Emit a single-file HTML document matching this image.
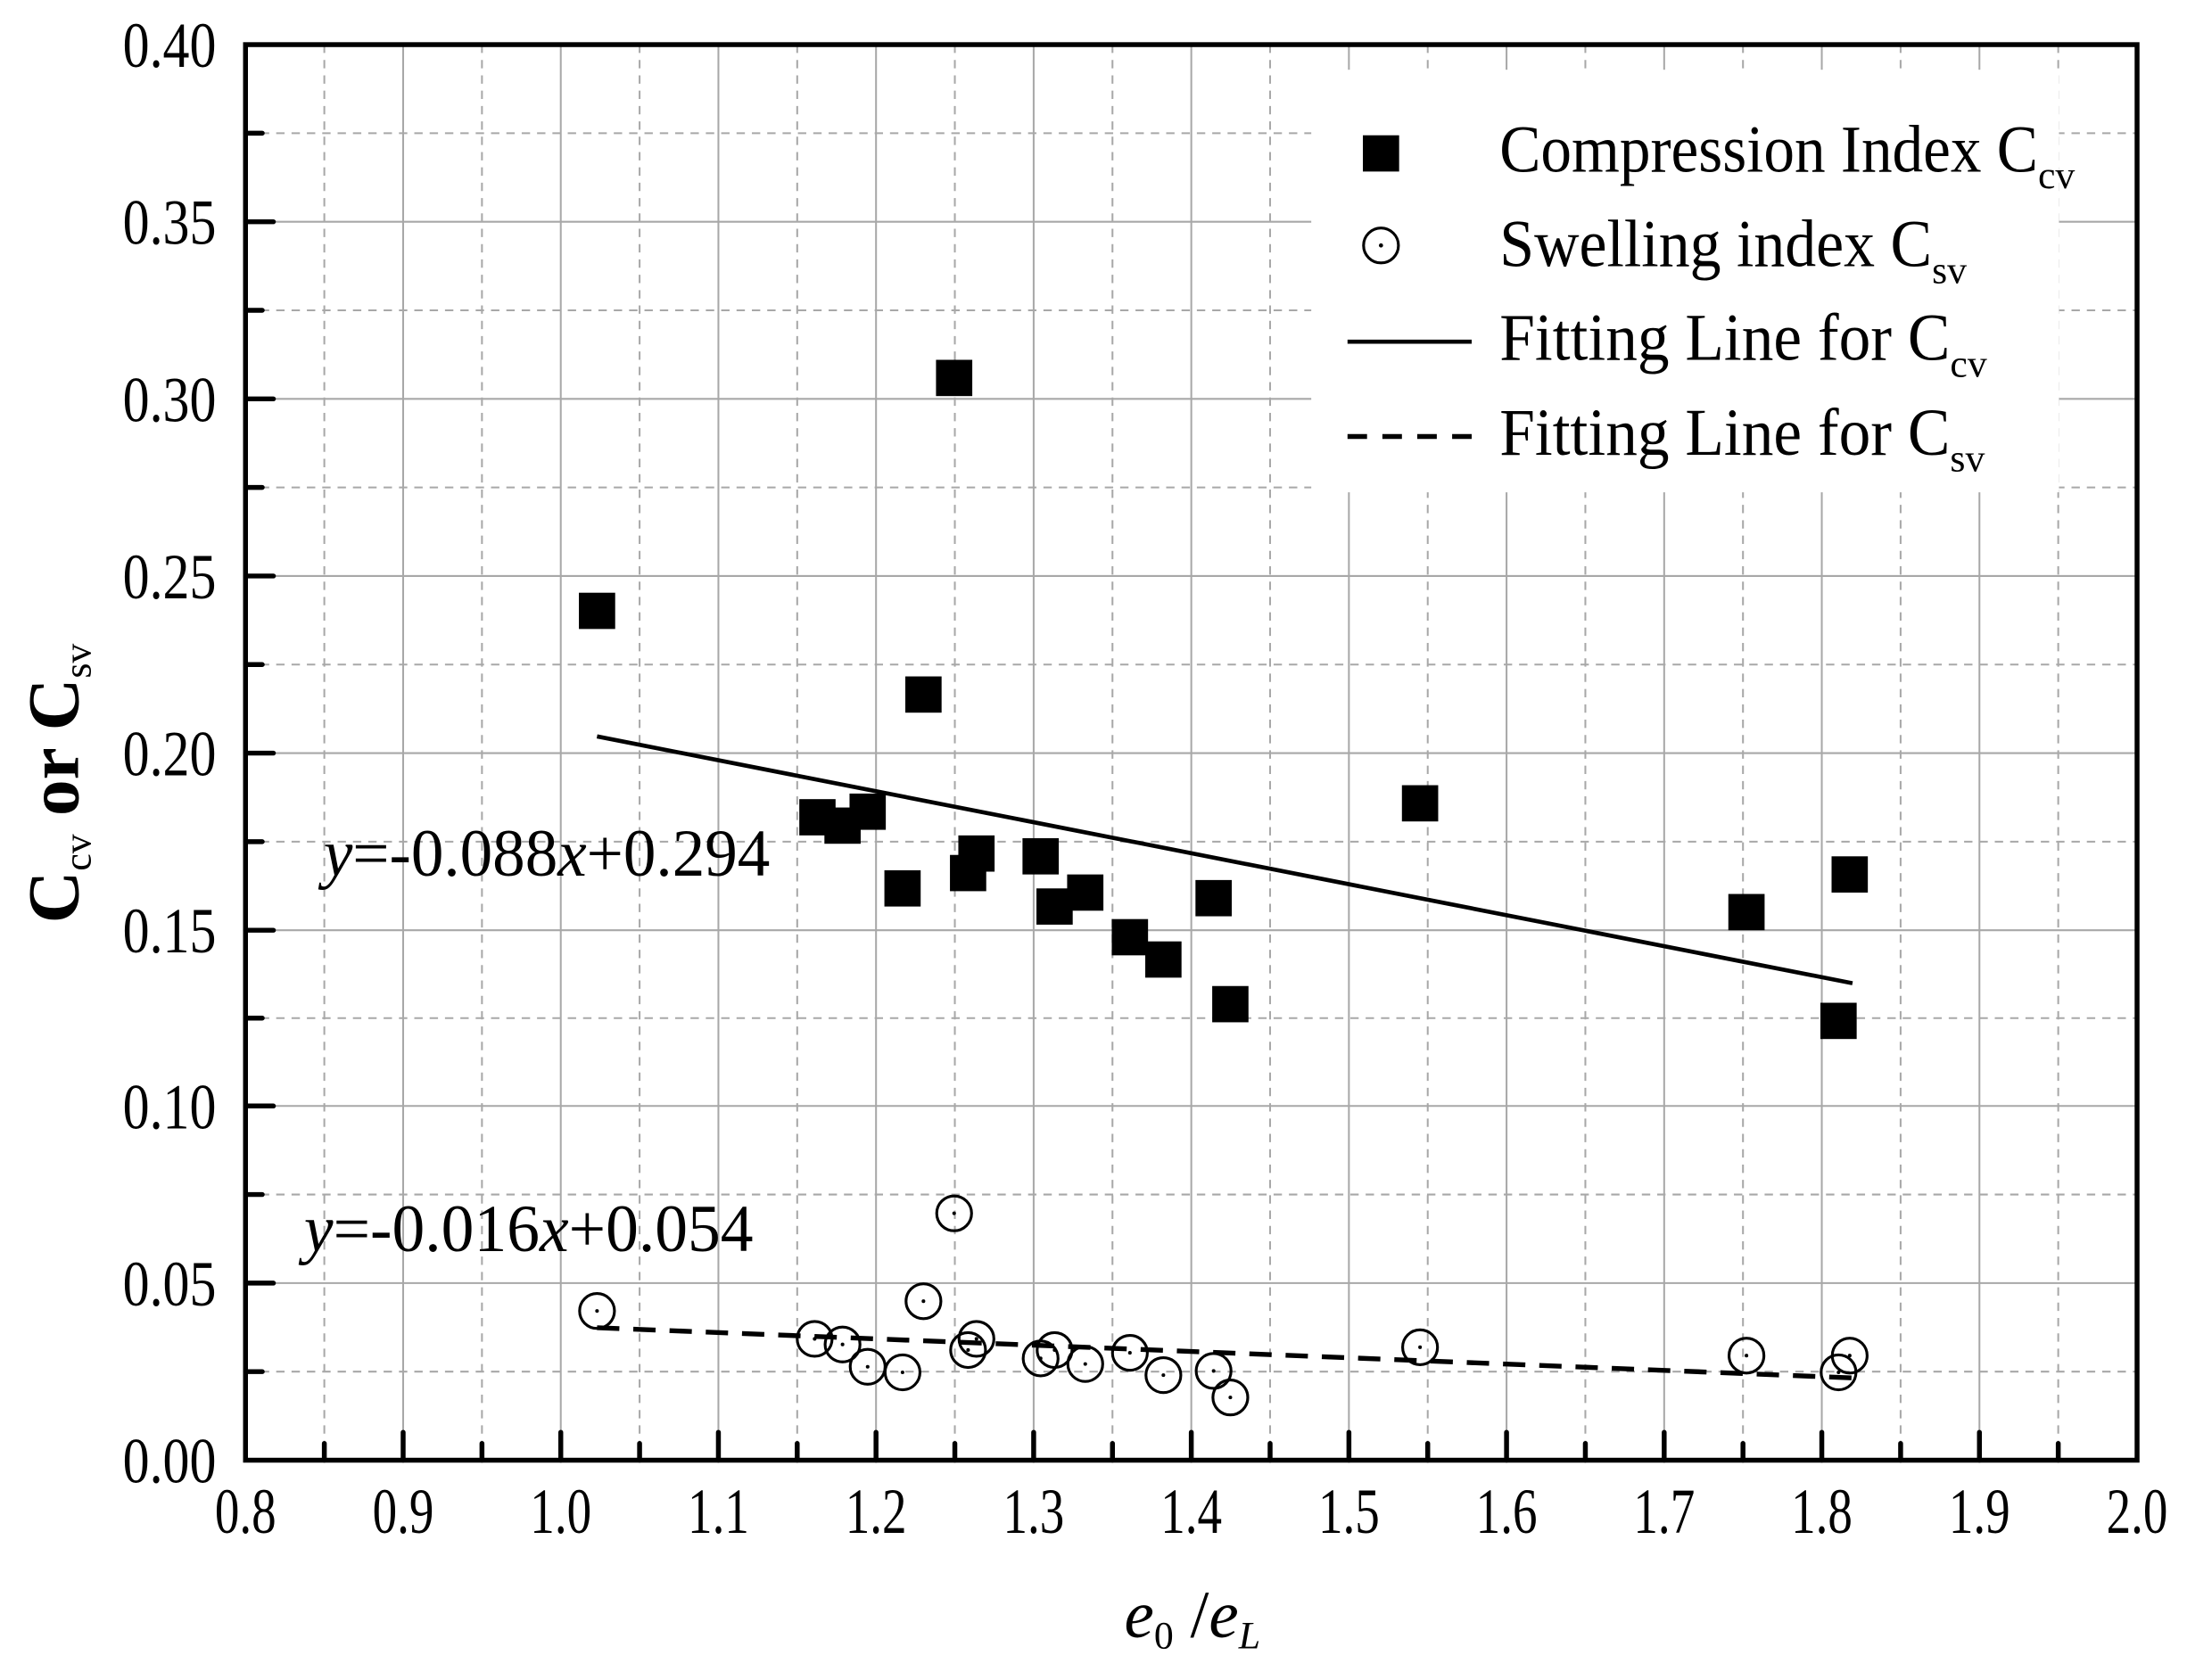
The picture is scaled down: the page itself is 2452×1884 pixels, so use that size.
<!DOCTYPE html>
<html><head><style>html,body{margin:0;padding:0;background:#fff}svg{display:block}</style></head>
<body>
<svg width="2452" height="1884" viewBox="0 0 1567.8 1204.6" preserveAspectRatio="none" xmlns="http://www.w3.org/2000/svg" font-family="'Liberation Serif',serif">
<rect width="1567.8" height="1204.6" fill="#fff"/>
<g stroke="#a8a8a8" stroke-width="1.3">
<path d="M289 32V1047M402 32V1047M515 32V1047M628 32V1047M741 32V1047M854 32V1047M967 32V1047M1080 32V1047M1193 32V1047M1306 32V1047M1419 32V1047"/>
<path d="M176 159H1532M176 286H1532M176 413H1532M176 540H1532M176 667H1532M176 793H1532M176 920H1532"/>
<path stroke-dasharray="6,5" d="M232.5 32V1047M345.5 32V1047M458.5 32V1047M571.5 32V1047M684.5 32V1047M797.5 32V1047M910.5 32V1047M1023.5 32V1047M1136.5 32V1047M1249.5 32V1047M1362.5 32V1047M1475.5 32V1047"/>
<path stroke-dasharray="6,5" d="M176 95.5H1532M176 222.5H1532M176 349.5H1532M176 476.5H1532M176 603.5H1532M176 730H1532M176 856.5H1532M176 983.5H1532"/>
</g>
<rect x="940" y="50" width="536" height="303" fill="#fff"/>
<g stroke="#000" stroke-width="3.5" stroke-linecap="round">
<path d="M289 1047v-20M402 1047v-20M515 1047v-20M628 1047v-20M741 1047v-20M854 1047v-20M967 1047v-20M1080 1047v-20M1193 1047v-20M1306 1047v-20M1419 1047v-20"/>
<path d="M232.5 1047v-12M345.5 1047v-12M458.5 1047v-12M571.5 1047v-12M684.5 1047v-12M797.5 1047v-12M910.5 1047v-12M1023.5 1047v-12M1136.5 1047v-12M1249.5 1047v-12M1362.5 1047v-12M1475.5 1047v-12"/>
<path d="M176 159h20M176 286h20M176 413h20M176 540h20M176 667h20M176 793h20M176 920h20"/>
<path d="M176 95.5h12M176 222.5h12M176 349.5h12M176 476.5h12M176 603.5h12M176 730h12M176 856.5h12M176 983.5h12"/>
</g>
<rect x="176" y="32" width="1356" height="1015" fill="none" stroke="#000" stroke-width="3.5"/>
<g font-size="46">
<text x="88" y="48" textLength="67" lengthAdjust="spacingAndGlyphs">0.40</text><text x="88" y="175" textLength="67" lengthAdjust="spacingAndGlyphs">0.35</text><text x="88" y="302" textLength="67" lengthAdjust="spacingAndGlyphs">0.30</text><text x="88" y="429" textLength="67" lengthAdjust="spacingAndGlyphs">0.25</text><text x="88" y="556" textLength="67" lengthAdjust="spacingAndGlyphs">0.20</text><text x="88" y="683" textLength="67" lengthAdjust="spacingAndGlyphs">0.15</text><text x="88" y="809" textLength="67" lengthAdjust="spacingAndGlyphs">0.10</text><text x="88" y="936" textLength="67" lengthAdjust="spacingAndGlyphs">0.05</text><text x="88" y="1063" textLength="67" lengthAdjust="spacingAndGlyphs">0.00</text>
</g>
<g font-size="46">
<text x="154" y="1099" textLength="44" lengthAdjust="spacingAndGlyphs">0.8</text><text x="267" y="1099" textLength="44" lengthAdjust="spacingAndGlyphs">0.9</text><text x="380" y="1099" textLength="44" lengthAdjust="spacingAndGlyphs">1.0</text><text x="493" y="1099" textLength="44" lengthAdjust="spacingAndGlyphs">1.1</text><text x="606" y="1099" textLength="44" lengthAdjust="spacingAndGlyphs">1.2</text><text x="719" y="1099" textLength="44" lengthAdjust="spacingAndGlyphs">1.3</text><text x="832" y="1099" textLength="44" lengthAdjust="spacingAndGlyphs">1.4</text><text x="945" y="1099" textLength="44" lengthAdjust="spacingAndGlyphs">1.5</text><text x="1058" y="1099" textLength="44" lengthAdjust="spacingAndGlyphs">1.6</text><text x="1171" y="1099" textLength="44" lengthAdjust="spacingAndGlyphs">1.7</text><text x="1284" y="1099" textLength="44" lengthAdjust="spacingAndGlyphs">1.8</text><text x="1397" y="1099" textLength="44" lengthAdjust="spacingAndGlyphs">1.9</text><text x="1510" y="1099" textLength="44" lengthAdjust="spacingAndGlyphs">2.0</text>
</g>
<text x="806" y="1174" font-size="48"><tspan font-style="italic">e</tspan><tspan font-size="28" dy="8">0</tspan><tspan dy="-8"> /</tspan><tspan font-style="italic">e</tspan><tspan font-size="28" dy="8" font-style="italic">L</tspan></text>
<text transform="translate(56,662) rotate(-90)" font-size="52" font-weight="bold">C<tspan font-size="28" font-weight="normal" dy="9">cv</tspan><tspan dy="-9"> or C</tspan><tspan font-size="28" font-weight="normal" dy="9">sv</tspan></text>
<text x="232" y="628" font-size="48" textLength="320" lengthAdjust="spacingAndGlyphs"><tspan font-style="italic">y</tspan>=-0.088<tspan font-style="italic">x</tspan>+0.294</text>
<text x="218" y="897" font-size="48" textLength="322" lengthAdjust="spacingAndGlyphs"><tspan font-style="italic">y</tspan>=-0.016<tspan font-style="italic">x</tspan>+0.054</text>
<path d="M428 528L1328 705" stroke="#000" stroke-width="3"/>
<path d="M428 952L1328 988" stroke="#000" stroke-width="3.5" stroke-dasharray="16,10"/>
<g fill="#000">
<rect x="415" y="425" width="26" height="26"/><rect x="671" y="258" width="26" height="26"/><rect x="649" y="485" width="26" height="26"/><rect x="573" y="573" width="26" height="26"/><rect x="591" y="579" width="26" height="26"/><rect x="609" y="569" width="26" height="26"/><rect x="634" y="624" width="26" height="26"/><rect x="681" y="613" width="26" height="26"/><rect x="687" y="599" width="26" height="26"/><rect x="733" y="601" width="26" height="26"/><rect x="743" y="637" width="26" height="26"/><rect x="765" y="627" width="26" height="26"/><rect x="797" y="659" width="26" height="26"/><rect x="821" y="675" width="26" height="26"/><rect x="857" y="631" width="26" height="26"/><rect x="869" y="707" width="26" height="26"/><rect x="1005" y="563" width="26" height="26"/><rect x="1239" y="641" width="26" height="26"/><rect x="1313" y="614" width="26" height="26"/><rect x="1305" y="719" width="26" height="26"/>
</g>
<g fill="none" stroke="#000" stroke-width="2">
<circle cx="428" cy="940" r="12.5"/><circle cx="684" cy="870" r="12.5"/><circle cx="662" cy="933" r="12.5"/><circle cx="584" cy="960" r="12.5"/><circle cx="604" cy="964" r="12.5"/><circle cx="622" cy="980" r="12.5"/><circle cx="647" cy="984" r="12.5"/><circle cx="700" cy="960" r="12.5"/><circle cx="694" cy="968" r="12.5"/><circle cx="746" cy="974" r="12.5"/><circle cx="756" cy="968" r="12.5"/><circle cx="778" cy="978" r="12.5"/><circle cx="810" cy="970" r="12.5"/><circle cx="834" cy="986" r="12.5"/><circle cx="870" cy="983" r="12.5"/><circle cx="882" cy="1002" r="12.5"/><circle cx="1018" cy="966" r="12.5"/><circle cx="1252" cy="972" r="12.5"/><circle cx="1326" cy="972" r="12.5"/><circle cx="1318" cy="984" r="12.5"/>
<circle cx="990" cy="176" r="12.5"/>
</g>
<g fill="#000">
<circle cx="428" cy="940" r="1.3"/><circle cx="684" cy="870" r="1.3"/><circle cx="662" cy="933" r="1.3"/><circle cx="584" cy="960" r="1.3"/><circle cx="604" cy="964" r="1.3"/><circle cx="622" cy="980" r="1.3"/><circle cx="647" cy="984" r="1.3"/><circle cx="700" cy="960" r="1.3"/><circle cx="694" cy="968" r="1.3"/><circle cx="746" cy="974" r="1.3"/><circle cx="756" cy="968" r="1.3"/><circle cx="778" cy="978" r="1.3"/><circle cx="810" cy="970" r="1.3"/><circle cx="834" cy="986" r="1.3"/><circle cx="870" cy="983" r="1.3"/><circle cx="882" cy="1002" r="1.3"/><circle cx="1018" cy="966" r="1.3"/><circle cx="1252" cy="972" r="1.3"/><circle cx="1326" cy="972" r="1.3"/><circle cx="1318" cy="984" r="1.3"/>
<circle cx="990" cy="176" r="1.5"/>
</g>
<rect x="977" y="97" width="26" height="26" fill="#000"/>
<path d="M966 245H1055" stroke="#000" stroke-width="3"/>
<path d="M966 313H1055" stroke="#000" stroke-width="3.5" stroke-dasharray="14,11"/>
<g font-size="48">
<text x="1075" y="123"><tspan textLength="386" lengthAdjust="spacingAndGlyphs">Compression Index C</tspan><tspan font-size="28" dy="12">cv</tspan></text>
<text x="1075" y="191"><tspan textLength="310" lengthAdjust="spacingAndGlyphs">Swelling index C</tspan><tspan font-size="28" dy="12">sv</tspan></text>
<text x="1075" y="258"><tspan textLength="323" lengthAdjust="spacingAndGlyphs">Fitting Line for C</tspan><tspan font-size="28" dy="12">cv</tspan></text>
<text x="1075" y="326"><tspan textLength="323" lengthAdjust="spacingAndGlyphs">Fitting Line for C</tspan><tspan font-size="28" dy="12">sv</tspan></text>
</g>
</svg>
</body></html>
